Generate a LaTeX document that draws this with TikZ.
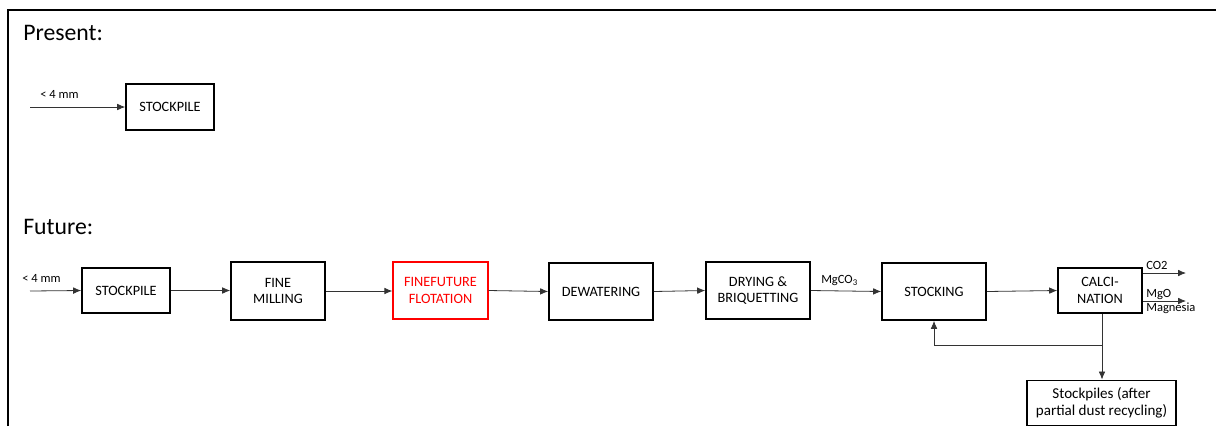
\documentclass[tikz,border=0pt]{standalone}
\usepackage{fontspec}
\setmainfont{Carlito}
\usetikzlibrary{arrows.meta}
\begin{document}
\begin{tikzpicture}[x=0.75pt,y=-0.75pt,
  box/.style={draw,line width=1.2pt,inner sep=0pt,align=center,font=\fontsize{10.7}{12.5}\selectfont},
  flow/.style={draw=black!80,line width=0.6pt,-{Latex[length=6pt,width=5pt]}},
  lbl/.style={font=\fontsize{9.4}{11}\selectfont,inner sep=0pt},
  title/.style={font=\fontsize{17.8}{21}\selectfont,anchor=west,inner sep=0pt}]
\useasboundingbox (0,0) rectangle (1216,426);
\draw[line width=1.6pt] (8,426) -- (8,10) -- (1216,10);
\node[title] (present) at (23,33) {Present:};
\node[title] (future) at (23,227) {Future:};
% present
\node[box,minimum width=66pt,minimum height=34.5pt] (pstock) at (170,107) {STOCKPILE};
\coordinate (pin) at (30,107);
\draw[flow] (pin) -- (pstock.west);
\node[lbl,anchor=south west] (pl) at (40,99) {< 4 mm};
% future
\node[box,minimum width=66pt,minimum height=34pt] (fstock) at (126,290.5) {STOCKPILE};
\node[box,minimum width=70.5pt,minimum height=43.5pt] (mill) at (278,291) {FINE\\MILLING};
\node[box,draw=red,text=red,minimum width=71pt,minimum height=42.75pt] (flot) at (440.5,290.5) {FINEFUTURE\\FLOTATION};
\node[box,minimum width=78pt,minimum height=42.75pt] (dew) at (601,291.5) {DEWATERING};
\node[box,minimum width=78pt,minimum height=42.75pt] (dry) at (758,290.5) {DRYING \&\\BRIQUETTING};
\node[box,minimum width=78pt,minimum height=42.75pt] (stk) at (934,291.5) {STOCKING};
\node[box,minimum width=63pt,minimum height=34pt] (cal) at (1100,290.5) {CALCI-\\NATION};
\node[box,font=\fontsize{11.3}{13}\selectfont,minimum width=111.75pt,minimum height=34pt] (sp) at (1101.5,403) {Stockpiles (after\\partial dust recycling)};
\coordinate (fin) at (30,291);
\draw[flow] (fin) -- (fstock.west);
\node[lbl,anchor=south west] (fl) at (22,283) {< 4 mm};
\draw[flow] (fstock.east) -- (fstock.east -| mill.west);
\draw[flow] (mill.east) -- (mill.east -| flot.west);
\draw[flow] (flot.east) -- (dew.west);
\draw[flow] (dew.east) -- (dry.west);
\draw[flow] (dry.east) -- (stk.west);
\node[lbl,anchor=south west] (mg) at (821,286) {MgCO\textsubscript{3}};
\draw[flow] (stk.east) -- (cal.west);
\coordinate (co2) at (1186,273);
\coordinate (mgo) at (1186,301);
\draw[flow] (cal.east |- co2) -- (co2);
\draw[flow] (cal.east |- mgo) -- (mgo);
\node[lbl,anchor=south west] (co2l) at (1146,270) {CO2};
\node[lbl,anchor=south west] (mgol) at (1146,300) {MgO};
\node[lbl,anchor=north west] (magl) at (1146,303) {Magnesia};
\coordinate (br) at (1102,345);
\draw[flow] (cal.south -| br) -- (sp.north -| br);
\draw[flow] (br) -- (stk.south |- br) -- (stk.south);
\end{tikzpicture}
\end{document}
